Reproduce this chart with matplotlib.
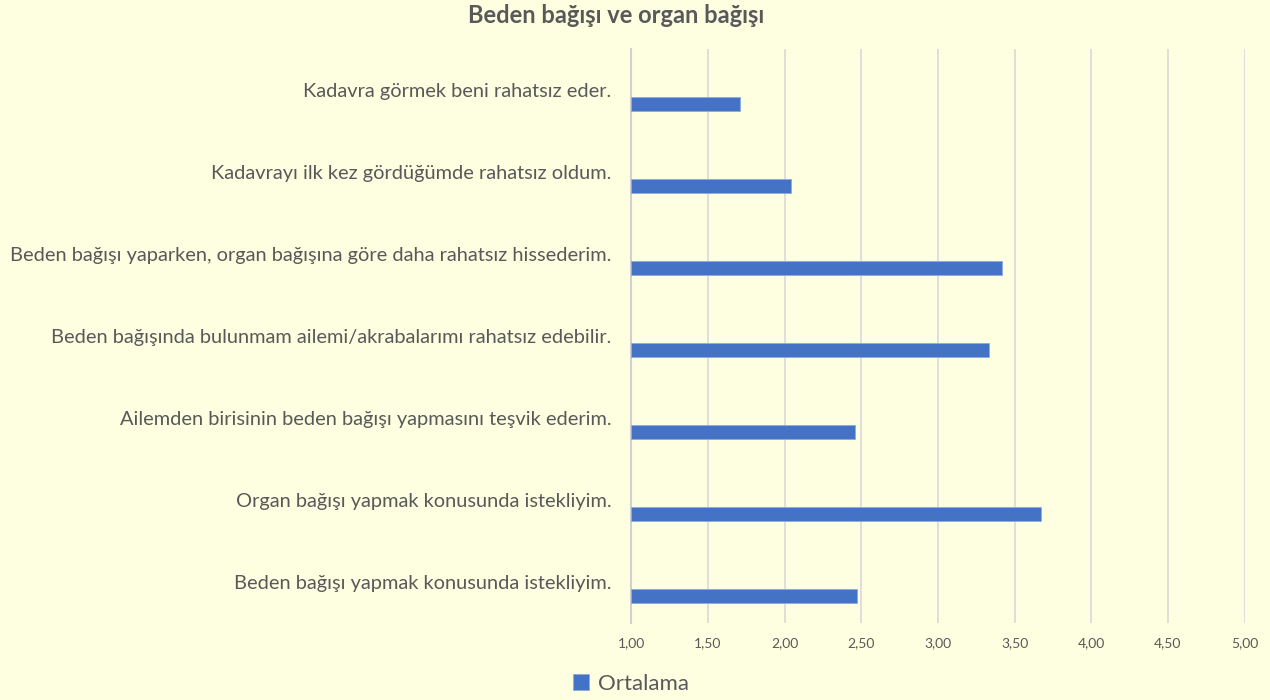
import matplotlib
matplotlib.use('Agg')
import matplotlib.pyplot as plt
from matplotlib.ticker import FuncFormatter

# kategoriler (yukaridan asagiya)
kategoriler = [
    'Kadavra görmek beni rahatsız eder.',
    'Kadavrayı ilk kez gördüğümde rahatsız oldum.',
    'Beden bağışı yaparken, organ bağışına göre daha rahatsız hissederim.',
    'Beden bağışında bulunmam ailemi/akrabalarımı rahatsız edebilir.',
    'Ailemden birisinin beden bağışı yapmasını teşvik ederim.',
    'Organ bağışı yapmak konusunda istekliyim.',
    'Beden bağışı yapmak konusunda istekliyim.',
]
ortalama = [1.71, 2.04, 3.42, 3.33, 2.46, 3.67, 2.47]
x_ticks = [1.0, 1.5, 2.0, 2.5, 3.0, 3.5, 4.0, 4.5, 5.0]

bg = '#FEFEE1'
text_color = '#595959'
bar_color = '#4472C4'

plt.rcParams['font.family'] = ['Lato', 'DejaVu Sans']

fig = plt.figure(figsize=(12.7, 7), dpi=100, facecolor=bg)
ax = fig.add_axes([0.497, 0.11, 0.483, 0.82])
ax.set_facecolor(bg)

n = len(kategoriler)
pos = list(range(n - 1, -1, -1))
bar_pos = [p - 0.17 for p in pos]
ax.barh(bar_pos, [v - 1 for v in ortalama], left=1, height=0.18,
        color=bar_color, edgecolor='#8FAADC', linewidth=0.6, label='Ortalama', zorder=3)

ax.set_xlim(1, 5)
ax.set_ylim(-0.5, n - 0.5)
ax.set_xticks(x_ticks)
ax.xaxis.set_major_formatter(FuncFormatter(lambda v, p: f'{v:.2f}'.replace('.', ',')))
ax.set_yticks(pos)
ax.set_yticklabels(kategoriler, fontsize=14.4, color=text_color)
ax.tick_params(axis='x', labelsize=10, colors=text_color, length=0, pad=10)
ax.tick_params(axis='y', length=0, pad=14)

ax.grid(axis='x', color='#D9D9D9', linewidth=1.2, zorder=0)
for s in ['top', 'right', 'bottom']:
    ax.spines[s].set_visible(False)
ax.spines['left'].set_color('#D0D0D0')
ax.spines['left'].set_linewidth(1.5)

fig.text(0.485, 0.978, 'Beden bağışı ve organ bağışı', ha='center', va='center',
         fontsize=17, fontweight='bold', color=text_color)

handles, labels = ax.get_legend_handles_labels()
fig.legend(handles, labels, loc='center', bbox_to_anchor=(0.497, 0.023), frameon=False,
           fontsize=16, labelcolor=text_color, handlelength=0.7, handleheight=0.7,
           handletextpad=0.4)

plt.savefig('out.png', dpi=100, facecolor=bg)
